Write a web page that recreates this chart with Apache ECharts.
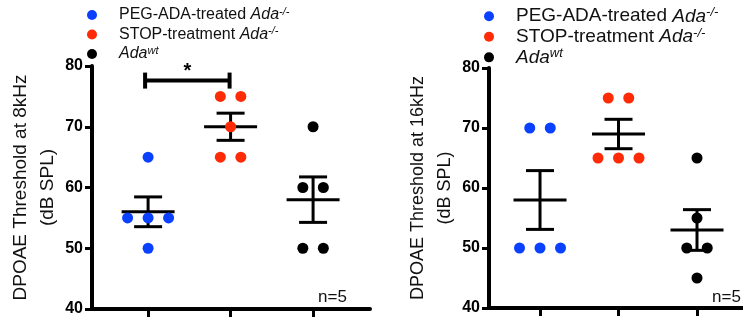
<!DOCTYPE html>
<html><head><meta charset="utf-8">
<script src="https://cdn.jsdelivr.net/npm/echarts@6/dist/echarts.min.js"></script>
<style>html,body{margin:0;padding:0;background:#fff}#c{width:743px;height:320px}</style>
</head><body><div id="c"></div>
<script>
// ---- data ----
const groupNames = ['PEG-ADA-treated Ada-/-', 'STOP-treatment Ada-/-', 'Adawt'];
const groupPos = [1, 2, 3];
const blue8k = [65, 55, 55, 55, 50];
const red8k = [75, 75, 70, 65, 65];
const black8k = [70, 60, 60, 50, 50];
const blue16k = [70, 70, 50, 50, 50];
const red16k = [75, 75, 65, 65, 65];
const black16k = [65, 55, 50, 50, 45];
const yTicks = [40, 50, 60, 70, 80];
const panelTitles = ['DPOAE Threshold at 8kHz\n(dB SPL)', 'DPOAE Threshold at 16kHz\n(dB SPL)'];
const nLabel = 'n=5';
const sigPair = [1, 2];
const sigLevel = 77.6;
const sigMark = '*';

// ---- styling / layout ----
const FONT = '"Liberation Sans", Arial, Helvetica, sans-serif';
const colors = ['#0a40ff', '#ff2a06', '#000000'];
const panels = [
  { left: 92, width: 278, top: 66, height: 243, xmin: 0.32, xmax: 3.69, titleSize: 19, legendSize: 16, legendLH: 18, legendGap: 2.5, legendTop: 6, legendLeft: 87 },
  { left: 489, width: 254, top: 68, height: 240, xmin: 0.35, xmax: 3.586, titleSize: 18, legendSize: 19, legendLH: 20.5, legendGap: 0.8, legendTop: 6, legendLeft: 484 }
];
const JITTER_PX = 20.5;

function jitter(vals, pos, step) {
  const counts = {}, seen = {};
  vals.forEach(v => counts[v] = (counts[v] || 0) + 1);
  return vals.map(v => {
    const n = counts[v];
    const i = seen[v] = (seen[v] === undefined ? 0 : seen[v] + 1);
    return [pos + (i - (n - 1) / 2) * step, v];
  });
}
function stats(vals) {
  const n = vals.length;
  const m = vals.reduce((a, b) => a + b, 0) / n;
  const sd = Math.sqrt(vals.reduce((a, b) => a + (b - m) * (b - m), 0) / (n - 1));
  return [m, sd / Math.sqrt(n)];
}

const panelData = [[blue8k, red8k, black8k], [blue16k, red16k, black16k]];

function legendFormatter(name) {
  if (name === groupNames[0]) return '{n|PEG-ADA-treated }{i|Ada}{s|-/-}';
  if (name === groupNames[1]) return '{n|STOP-treatment }{i|Ada}{s|-/-}';
  return '{i|Ada}{s|wt}';
}

const grids = [], xAxes = [], yAxes = [], legends = [], series = [];
panels.forEach((p, pi) => {
  grids.push({ left: p.left, top: p.top, width: p.width, height: p.height });
  xAxes.push({
    type: 'value', gridIndex: pi, min: p.xmin, max: p.xmax,
    axisLine: { show: true, onZero: false, lineStyle: { color: '#000', width: 4 } },
    axisTick: { show: true, customValues: groupPos, length: 8, lineStyle: { color: '#000', width: 3 } },
    axisLabel: { show: false }, splitLine: { show: false }
  });
  yAxes.push({
    type: 'value', gridIndex: pi, min: yTicks[0], max: yTicks[yTicks.length - 1], interval: 10,
    name: panelTitles[pi], nameLocation: 'middle', nameRotate: 90, nameGap: 29,
    nameTextStyle: { fontFamily: FONT, fontSize: p.titleSize, lineHeight: 27, color: '#111' },
    axisLine: { show: true, lineStyle: { color: '#000', width: 4 } },
    axisTick: { show: true, length: 7, lineStyle: { color: '#000', width: 3 } },
    axisLabel: { fontFamily: FONT, fontSize: 16, fontWeight: 'bold', color: '#000', margin: 9 },
    splitLine: { show: false }
  });
  const fs = p.legendSize, lh = p.legendLH;
  legends.push({
    orient: 'vertical', left: p.legendLeft, top: p.legendTop, padding: 0,
    itemWidth: 44, itemHeight: 10, itemGap: p.legendGap, selectedMode: false,
    itemStyle: { opacity: 1 },
    data: groupNames, formatter: legendFormatter,
    textStyle: {
      fontFamily: FONT, fontSize: fs, color: '#111',
      rich: {
        n: { fontFamily: FONT, fontSize: fs, lineHeight: lh, color: '#111' },
        i: { fontFamily: FONT, fontSize: fs, fontStyle: 'italic', lineHeight: lh, color: '#111' },
        s: { fontFamily: FONT, fontSize: Math.round(fs * 0.68), fontStyle: 'italic', lineHeight: Math.round(fs * 0.68), verticalAlign: 'top', color: '#111' }
      }
    }
  });
  const step = JITTER_PX / (p.width / (p.xmax - p.xmin));
  const sems = [];
  panelData[pi].forEach((vals, gi) => {
    const st = stats(vals);
    sems.push([groupPos[gi], st[0], st[1]]);
    series.push({
      type: 'scatter', name: groupNames[gi], xAxisIndex: pi, yAxisIndex: pi,
      symbol: 'circle', symbolSize: 11, z: 5,
      itemStyle: { color: colors[gi], opacity: 1 },
      data: jitter(vals, groupPos[gi], step)
    });
  });
  series.push({
    type: 'custom', xAxisIndex: pi, yAxisIndex: pi, z: 3, silent: true,
    encode: { x: 0, y: 1 },
    data: sems,
    renderItem: function (params, api) {
      const x = api.value(0), m = api.value(1), s = api.value(2);
      const c = api.coord([x, m]), t = api.coord([x, m + s]), b = api.coord([x, m - s]);
      const MW = 26.5, CW = 14;
      const st = { stroke: '#000', lineWidth: 3 };
      return { type: 'group', children: [
        { type: 'line', shape: { x1: c[0] - MW, y1: c[1], x2: c[0] + MW, y2: c[1] }, style: st },
        { type: 'line', shape: { x1: c[0], y1: t[1], x2: c[0], y2: b[1] }, style: st },
        { type: 'line', shape: { x1: c[0] - CW, y1: t[1], x2: c[0] + CW, y2: t[1] }, style: st },
        { type: 'line', shape: { x1: c[0] - CW, y1: b[1], x2: c[0] + CW, y2: b[1] }, style: st }
      ] };
    }
  });
});

// significance bracket on the 8 kHz panel
series.push({
  type: 'custom', xAxisIndex: 0, yAxisIndex: 0, z: 4, silent: true,
  encode: { x: 0, y: 2 },
  data: [[sigPair[0], sigPair[1], sigLevel]],
  renderItem: function (params, api) {
    const a = api.coord([api.value(0), api.value(2)]);
    const b = api.coord([api.value(1), api.value(2)]);
    const x1 = a[0] - 3, x2 = b[0] - 1, y = a[1];
    const st = { stroke: '#000', lineWidth: 4 };
    return { type: 'group', children: [
      { type: 'line', shape: { x1: x1, y1: y, x2: x2, y2: y }, style: st },
      { type: 'line', shape: { x1: x1, y1: y - 8, x2: x1, y2: y + 8 }, style: st },
      { type: 'line', shape: { x1: x2, y1: y - 8, x2: x2, y2: y + 8 }, style: st },
      { type: 'text', style: { text: sigMark, x: (x1 + x2) / 2, y: y - 9, fontFamily: FONT, fontSize: 20, fontWeight: 'bold', fill: '#000', align: 'center', verticalAlign: 'middle' } }
    ] };
  }
});

const chart = echarts.init(document.getElementById('c'), null, { renderer: 'canvas' });
chart.setOption({
  backgroundColor: '#fff',
  animation: false,
  grid: grids, xAxis: xAxes, yAxis: yAxes, legend: legends, series: series,
  graphic: [
    { type: 'text', left: 318, top: 289, style: { text: nLabel, fontFamily: FONT, fontSize: 17, fill: '#111' } },
    { type: 'text', left: 712, top: 289, style: { text: nLabel, fontFamily: FONT, fontSize: 17, fill: '#111' } }
  ]
});
</script>
</body></html>
